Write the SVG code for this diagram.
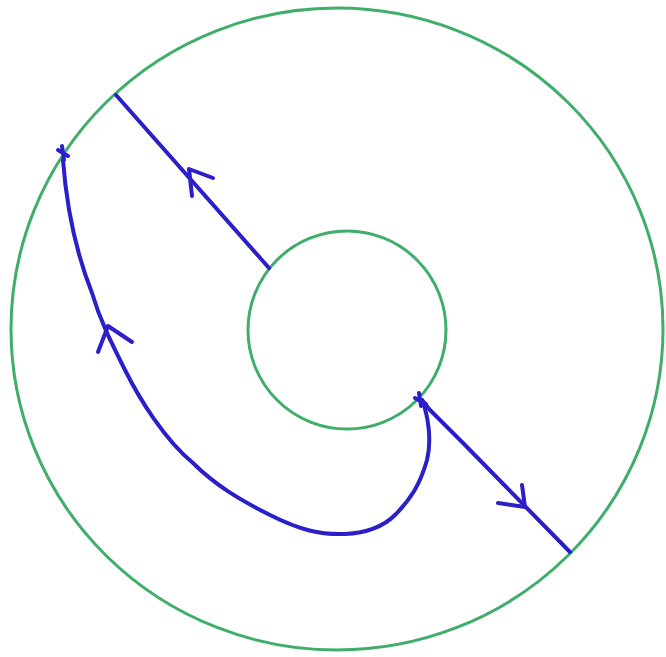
<svg xmlns="http://www.w3.org/2000/svg" width="666" height="657" viewBox="0 0 666 657">
<style>
.g{fill:none;stroke:#3fae6a;stroke-width:3}
.b{fill:none;stroke:#2a1fc8;stroke-width:4;stroke-linecap:round;stroke-linejoin:round}
</style>
<rect width="666" height="657" fill="#ffffff"/>
<g id="outer"><ellipse class="g" cx="337" cy="329" rx="326" ry="321"/></g>
<g id="inner"><circle class="g" cx="347" cy="330" r="99"/></g>
<g id="connectors">
<path class="b" d="M116,95 L269,268"/>
<path class="b" d="M213,178 L189,169 L192,196"/>
<path class="b" d="M63,160 C66,200 75,250 92,293 C100,320 110,340 125,370 C140,400 165,440 193,463 C215,485 240,500 270,515 C300,530 320,535 345,534 C365,533 382,528 395,515 C410,500 420,485 427,460 C432,440 428,415 422,400"/>
<path class="b" d="M98,352 L108,326 L132,342"/>
<path class="b" d="M422,400 L430,410 L463,443 L570,552"/>
<path class="b" d="M522,485 L525,507 L498,503"/>
<path class="b" d="M58,150 L68,156 M62,146 L64,160"/>
<path class="b" d="M415,398 L426,404 M419,393 L421,406"/>
</g>
</svg>
